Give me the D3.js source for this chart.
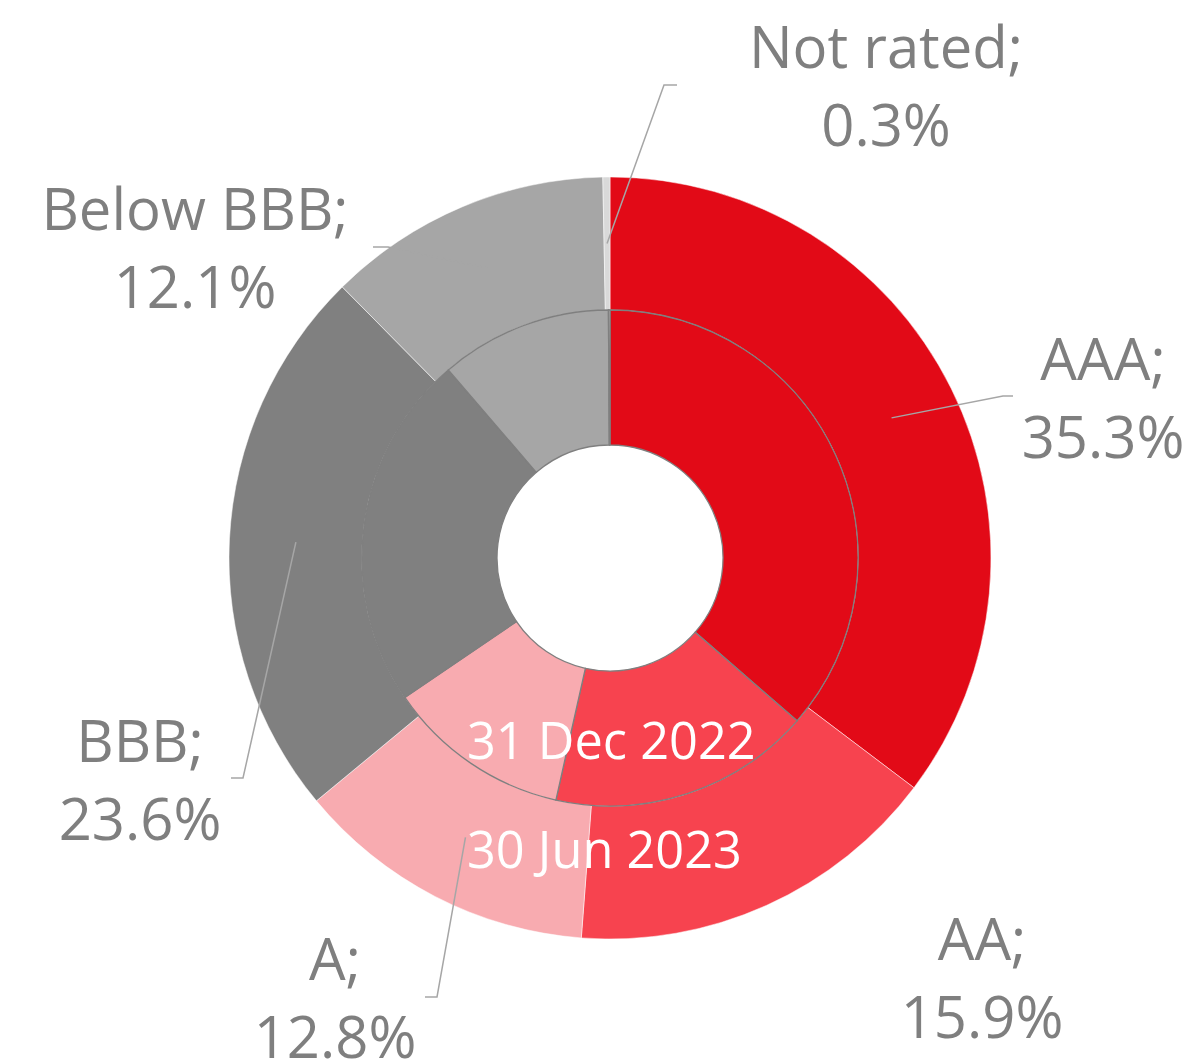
<!DOCTYPE html>
<html>
<head>
<meta charset="utf-8">
<script src="https://cdn.jsdelivr.net/npm/d3@7"></script>
<style>
	body { margin:0; background:#fff; }
	svg { display:block; font-family:"Open Sans", sans-serif; }
</style>
</head>
<body>
<svg id="chart" width="1195" height="1063"></svg>
<script>
	// ratings split, outer ring = 30 Jun 2023, inner ring = 31 Dec 2022
	var categories = ["AAA", "AA", "A", "BBB", "Below BBB", "Not rated"];
	var jun2023 = [35.3, 15.9, 12.8, 23.6, 12.1, 0.3];
	var dec2022 = [36.4, 17.1, 12.0, 23.2, 11.2, 0.1];
	var ringLabels = ["31 Dec 2022", "30 Jun 2023"];

	var colors = ["#e20a17", "#f7434f", "#f8abb0", "#808080", "#a6a6a6", "#d9d9d9"];

	var width = 1195, height = 1063;
	var cx = 610, cy = 558;
	var rHole = 113, rMid = 248, rOuter = 381;

	// label placement: [x, first baseline] and leader elbow/end of hook
	var labelPos = {
		"AAA": {x:1103, y:380, hook:[[1013,396],[1003,396]]},
		"AA": {x:982, y:960, hook:null},
		"A": {x:335, y:980, hook:[[425,997],[437,997]]},
		"BBB": {x:140, y:762, hook:[[231,778],[243,778]]},
		"Below BBB": {x:195, y:230, hook:[[373,247],[388,247]]},
		"Not rated": {x:886, y:68, hook:[[677,85],[664,85]]}
	};

	var svg = d3.select("#chart");
	var g = svg.append("g").attr("transform", "translate(" + cx + "," + cy + ")");

	var pie = d3.pie().sort(null).value(function(d){return d.v;}).startAngle(0).endAngle(2*Math.PI);
	var outerData = pie(categories.map(function(c,i){return {cat:c, v:jun2023[i], i:i};}));
	var innerData = pie(categories.map(function(c,i){return {cat:c, v:dec2022[i], i:i};}));

	var outerArc = d3.arc().innerRadius(rMid).outerRadius(rOuter);
	var innerArc = d3.arc().innerRadius(rHole).outerRadius(rMid);

	g.selectAll("path.outer").data(outerData).enter().append("path")
		.attr("class", "outer")
		.attr("d", outerArc)
		.attr("fill", function(d){return colors[d.data.i];})
		.attr("stroke", "#ffffff")
		.attr("stroke-width", 0.5);

	g.selectAll("path.inner").data(innerData).enter().append("path")
		.attr("class", "inner")
		.attr("d", innerArc)
		.attr("fill", function(d){return colors[d.data.i];})
		.attr("stroke", "#7f7f7f")
		.attr("stroke-width", 1.3);

	// leader lines
	var leaders = svg.append("g");
	outerData.forEach(function(d){
		var lp = labelPos[d.data.cat];
		if(!lp.hook) return;
		var c = outerArc.centroid(d);
		var pts = [lp.hook[0], lp.hook[1], [c[0]+cx, c[1]+cy]];
		leaders.append("path")
			.attr("d", d3.line()(pts))
			.attr("fill", "none")
			.attr("stroke", "#a6a6a6")
			.attr("stroke-width", 1.5);
	});

	// category labels
	var labels = svg.append("g");
	outerData.forEach(function(d){
		var lp = labelPos[d.data.cat];
		var t = labels.append("text")
			.attr("text-anchor", "middle")
			.attr("fill", "#7f7f7f")
			.attr("font-size", 58);
		t.append("tspan").attr("x", lp.x).attr("y", lp.y).text(d.data.cat + ";");
		t.append("tspan").attr("x", lp.x).attr("y", lp.y + 78).text(d3.format(".1f")(d.data.v) + "%");
	});

	// ring names
	svg.append("g").selectAll("text").data(ringLabels).enter().append("text")
		.attr("x", 467)
		.attr("y", function(d,i){return i==0 ? 759 : 868;})
		.attr("fill", "#ffffff")
		.attr("font-size", 50.5)
		.text(function(d){return d;});
</script>
</body>
</html>
